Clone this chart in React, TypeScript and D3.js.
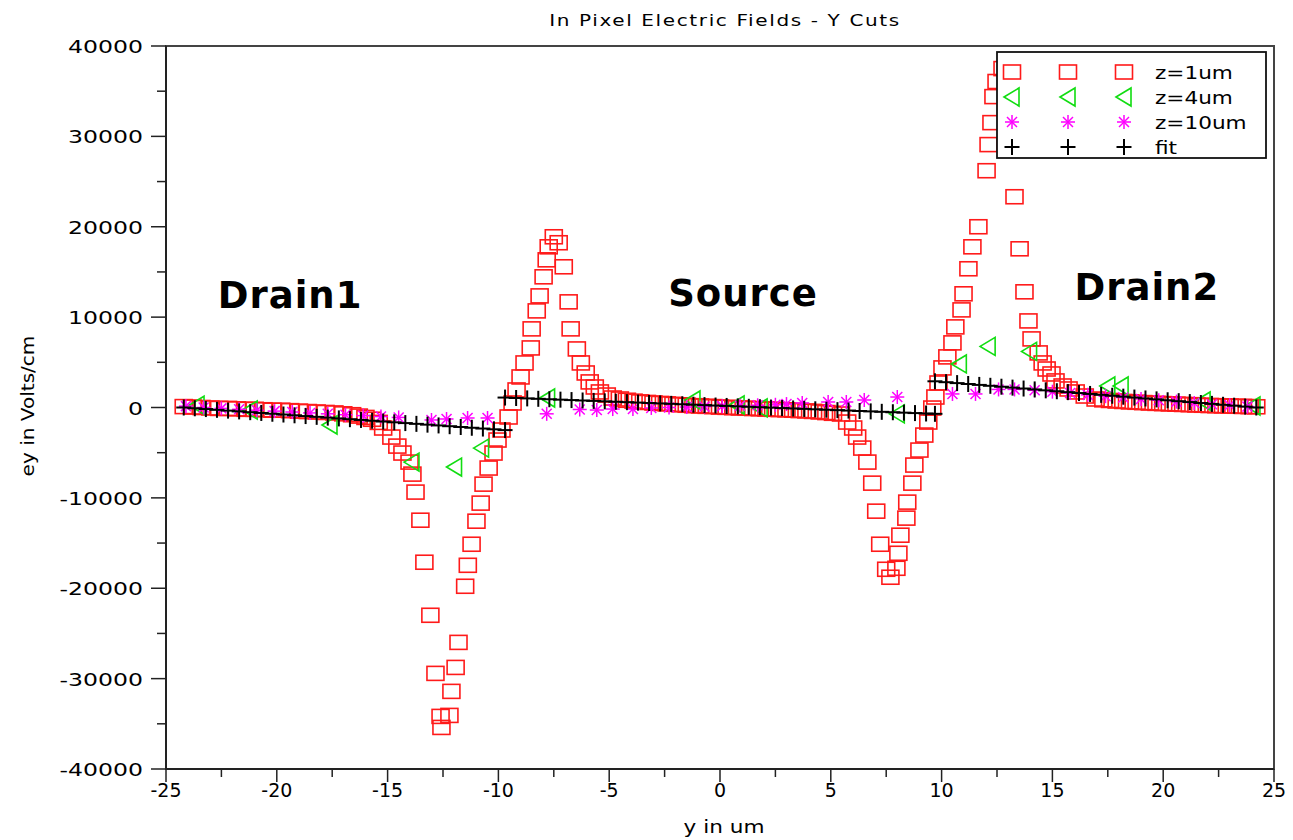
import React from "react";
import * as d3 from "d3";

type Pt = [number, number];

const TITLE = "In Pixel Electric Fields - Y Cuts";
const X_LABEL = "y in um";
const Y_LABEL = "ey in Volts/cm";
const X_TICKS = [-25, -20, -15, -10, -5, 0, 5, 10, 15, 20, 25];
const X_MINOR = [-22.5, -17.5, -12.5, -7.5, -2.5, 2.5, 7.5, 12.5, 17.5, 22.5];
const Y_TICKS = [-40000, -30000, -20000, -10000, 0, 10000, 20000, 30000, 40000];
const Y_MINOR = [-35000, -25000, -15000, -5000, 5000, 15000, 25000, 35000];
const LEGEND_LABELS = ["z=1um", "z=4um", "z=10um", "fit"];
const REGION_NAMES = ["Drain1", "Source", "Drain2"];
const REGION_X = [-19.4, 1.04, 19.26];
const REGION_Y = [11000, 11250, 11900];

// z = 1um (red squares)
const Z1UM: Pt[] = [
  [-24.2, 100], [-23.8, 50], [-23.4, 0], [-23.0, -50], [-22.6, -100], [-22.2, -100],
  [-21.8, -150], [-21.4, -200], [-21.0, -200], [-20.6, -250], [-20.2, -300], [-19.8, -300],
  [-19.4, -350], [-19.0, -400], [-18.6, -450], [-18.2, -500], [-17.8, -550], [-17.4, -600],
  [-17.0, -700], [-16.6, -800], [-16.3, -950], [-16.0, -1100], [-15.7, -1300], [-15.4, -1650],
  [-15.2, -2270], [-14.83, -3270], [-14.56, -4270], [-14.33, -5040], [-14.01, -6040],
  [-13.88, -7370], [-13.74, -9360], [-13.52, -12470], [-13.34, -17120], [-13.07, -22990],
  [-12.84, -29420], [-12.61, -34180], [-12.57, -35400], [-12.21, -34070], [-12.12, -31410],
  [-11.93, -28760], [-11.8, -25990], [-11.5, -19780], [-11.38, -17460], [-11.21, -15130],
  [-10.99, -12580], [-10.8, -10580], [-10.67, -8480], [-10.44, -6700], [-10.22, -5040],
  [-10.04, -3600], [-9.86, -2490], [-9.54, -1050], [-9.36, 500], [-9.18, 1940], [-9.0, 3380],
  [-8.82, 4930], [-8.54, 6590], [-8.5, 8700], [-8.27, 10690], [-8.14, 12350], [-7.96, 14460],
  [-7.82, 16340], [-7.73, 17780], [-7.5, 18890], [-7.28, 18230], [-7.05, 15570], [-6.83, 11690],
  [-6.74, 8700], [-6.46, 6480], [-6.28, 4930], [-6.06, 3820], [-5.88, 2830], [-5.65, 2270],
  [-5.42, 1720], [-5.11, 1380], [-4.84, 1050], [-4.52, 940],
  [-4.2, 800], [-3.9, 700], [-3.6, 620], [-3.3, 560], [-3.0, 500], [-2.7, 450], [-2.4, 400],
  [-2.1, 350], [-1.8, 300], [-1.5, 250], [-1.2, 200], [-0.9, 170], [-0.6, 130], [-0.3, 100],
  [0.0, 50], [0.3, 20], [0.6, -20], [0.9, -50], [1.2, -80], [1.5, -110], [1.8, -140],
  [2.1, -170], [2.4, -200], [2.7, -230], [3.0, -260], [3.3, -300], [3.6, -340], [3.9, -380],
  [4.2, -430], [4.5, -490], [4.8, -560], [5.1, -640],
  [5.46, -720], [5.74, -1610], [6.01, -2270], [6.19, -3270], [6.42, -4490], [6.65, -6040],
  [6.87, -8370], [7.05, -11470], [7.23, -15130], [7.5, -17900], [7.69, -18780], [7.96, -17790],
  [8.05, -16130], [8.14, -14130], [8.41, -12240], [8.45, -10470], [8.68, -8370], [8.77, -6370],
  [9.0, -4710], [9.22, -3050], [9.4, -1610], [9.58, -60], [9.72, 1160], [9.86, 2710],
  [10.04, 4380], [10.26, 5600], [10.49, 7150], [10.62, 8920], [10.9, 10800], [10.99, 12580],
  [11.21, 15350], [11.39, 17780], [11.66, 20000], [12.03, 26200], [12.12, 29090], [12.25, 31520],
  [12.34, 34400], [12.48, 36070], [12.75, 37500], [13.29, 23320], [13.52, 17560], [13.74, 12800],
  [13.92, 9580], [14.06, 7590], [14.38, 6040], [14.56, 4930], [14.74, 4260], [14.96, 3710],
  [15.14, 2940], [15.46, 2380], [15.73, 2050], [16.05, 1720], [16.46, 1270], [16.95, 940],
  [17.3, 850], [17.6, 780], [17.9, 720], [18.2, 670], [18.5, 620], [18.8, 580], [19.1, 540],
  [19.4, 500], [19.7, 460], [20.0, 430], [20.3, 400], [20.6, 370], [20.9, 340], [21.2, 310],
  [21.5, 280], [21.8, 250], [22.1, 220], [22.4, 200], [22.7, 180], [23.0, 160], [23.3, 140],
  [23.6, 120], [23.9, 100], [24.2, 80],
];

// z = 4um (green triangles)
const Z4UM: Pt[] = [
  [-23.6, 250], [-21.2, -280], [-17.6, -1940], [-13.9, -6040], [-11.98, -6590], [-10.76, -4490],
  [-7.78, 1050], [-1.22, 830], [0.77, 280], [1.81, -50], [8.0, -700], [10.8, 4820], [12.1, 6760],
  [13.97, 6210], [17.5, 2380], [18.1, 2380], [21.8, 720], [24.05, 170],
];

// z = 10um (magenta asterisks)
const Z10UM: Pt[] = [
  [-24.1, 150], [-23.3, 0], [-22.5, -100], [-21.7, -200], [-20.9, -300], [-20.1, -400],
  [-19.3, -500], [-18.5, -600], [-17.7, -700], [-16.9, -800], [-16.1, -900], [-15.3, -1000],
  [-14.5, -1100], [-13.02, -1380], [-12.34, -1270], [-11.39, -1160], [-10.49, -1160],
  [-7.82, -700], [-6.33, -220], [-5.56, -280], [-4.84, -170], [-3.93, -170], [-3.1, -50],
  [-2.3, 0], [-1.5, 50], [-0.7, 100], [0.1, 150], [0.9, 200], [1.7, 250], [2.5, 300],
  [3.0, 380], [3.71, 500], [4.88, 610], [5.7, 610], [6.51, 830], [8.0, 1160], [10.49, 1500],
  [11.53, 1500], [12.57, 2000], [13.29, 2000], [14.2, 1900], [15.0, 1750], [15.8, 1600],
  [16.6, 1400], [17.4, 1250], [18.2, 1100], [19.0, 950], [19.8, 800], [20.6, 650],
  [21.4, 500], [22.2, 350], [23.0, 250], [23.8, 100],
];

// fit (black plus)
const FIT_LEFT: Pt[] = [
  [-24.2, 0], [-23.7, -86], [-23.2, -172], [-22.7, -259], [-22.2, -345], [-21.7, -431],
  [-21.2, -517], [-20.7, -603], [-20.2, -690], [-19.7, -776], [-19.2, -862], [-18.7, -948],
  [-18.2, -1034], [-17.7, -1121], [-17.2, -1207], [-16.7, -1293], [-16.2, -1379], [-15.7, -1466],
  [-15.2, -1552], [-14.7, -1638], [-14.2, -1724], [-13.7, -1810], [-13.2, -1897], [-12.7, -1983],
  [-12.2, -2069], [-11.7, -2155], [-11.2, -2241], [-10.7, -2328], [-10.2, -2414], [-9.7, -2500],
];
const FIT_MIDDLE: Pt[] = [
  [-9.7, 1100], [-9.2, 1054], [-8.7, 1007], [-8.2, 961], [-7.7, 914], [-7.2, 868], [-6.7, 822],
  [-6.2, 775], [-5.7, 729], [-5.2, 682], [-4.7, 636], [-4.2, 590], [-3.7, 543], [-3.2, 497],
  [-2.7, 450], [-2.2, 404], [-1.7, 358], [-1.2, 311], [-0.7, 265], [-0.2, 218], [0.3, 172],
  [0.8, 126], [1.3, 79], [1.8, 33], [2.3, -14], [2.8, -60], [3.3, -106], [3.8, -153],
  [4.3, -199], [4.8, -246], [5.3, -292], [5.8, -338], [6.3, -385], [6.8, -431], [7.3, -478],
  [7.8, -524], [8.3, -570], [8.8, -617], [9.3, -663], [9.7, -700],
];
const FIT_RIGHT: Pt[] = [
  [9.7, 2900], [10.2, 2800], [10.7, 2700], [11.2, 2600], [11.7, 2500], [12.2, 2400],
  [12.7, 2300], [13.2, 2200], [13.7, 2100], [14.2, 2000], [14.7, 1900], [15.2, 1800],
  [15.7, 1700], [16.2, 1600], [16.7, 1500], [17.2, 1400], [17.7, 1300], [18.2, 1200],
  [18.7, 1100], [19.2, 1000], [19.7, 900], [20.2, 800], [20.7, 700], [21.2, 600],
  [21.7, 500], [22.2, 400], [22.7, 300], [23.2, 200], [23.7, 100], [24.2, 0],
];

const RED = "#ff1a1a";
const GREEN = "#11dd11";
const MAGENTA = "#ff00ff";
const FONT = "DejaVu Sans";

const Square = ({ cx, cy }: { cx: number; cy: number }) => (
  <rect x={cx - 8.5} y={cy - 7} width={17} height={14} fill="none" stroke={RED} strokeWidth={1.6} />
);
const Tri = ({ cx, cy }: { cx: number; cy: number }) => (
  <path d={`M${cx - 8},${cy} L${cx + 7},${cy - 9} L${cx + 7},${cy + 9} Z`} fill="none" stroke={GREEN} strokeWidth={1.6} />
);
const Star = ({ cx, cy }: { cx: number; cy: number }) => (
  <g stroke={MAGENTA} strokeWidth={1.5}>
    <line x1={cx} y1={cy - 7} x2={cx} y2={cy + 7} />
    <line x1={cx - 7} y1={cy} x2={cx + 7} y2={cy} />
    <line x1={cx - 5} y1={cy - 5} x2={cx + 5} y2={cy + 5} />
    <line x1={cx - 5} y1={cy + 5} x2={cx + 5} y2={cy - 5} />
  </g>
);
const Plus = ({ cx, cy }: { cx: number; cy: number }) => (
  <g stroke="#000" strokeWidth={2}>
    <line x1={cx} y1={cy - 8} x2={cx} y2={cy + 8} />
    <line x1={cx - 7.5} y1={cy} x2={cx + 7.5} y2={cy} />
  </g>
);

const SText = ({ x, y, sx = 1, anchor = "start", size, children, weight = "normal", rotate = 0, ls = 0 }: any) => (
  <text
    transform={`translate(${x},${y}) rotate(${rotate}) scale(${sx},1)`}
    textAnchor={anchor}
    fontSize={size}
    fontFamily={FONT}
    fontWeight={weight}
    letterSpacing={ls}
    fill="#000"
  >
    {children}
  </text>
);

export default function App() {
  const x = d3.scaleLinear().domain([-25, 25]).range([166, 1274]);
  const y = d3.scaleLinear().domain([-40000, 40000]).range([769, 46]);
  const [x0, x1] = x.range();
  const [y0, y1] = y.range();
  const fit = [...FIT_LEFT, ...FIT_MIDDLE, ...FIT_RIGHT];
  const markers = [Square, Tri, Star, Plus];
  const legendRows = [72, 97, 122, 147];
  const legendCols = [1012, 1068, 1124];

  return (
    <svg width={1293} height={840} style={{ position: "absolute", left: 0, top: 0, background: "#fff" }}>
      <rect x={0} y={0} width={1293} height={840} fill="#fff" />
      {/* frame */}
      <rect x={x0} y={y1} width={x1 - x0} height={y0 - y1} fill="none" stroke="#444" strokeWidth={2} />
      {/* y axis ticks */}
      {Y_TICKS.map((t) => (
        <g key={"yt" + t}>
          <line x1={x0 - 15} x2={x0} y1={y(t)} y2={y(t)} stroke="#222" strokeWidth={1.5} />
          <SText x={x0 - 23} y={y(t) + 7} sx={1.31} anchor="end" size={18}>
            {String(t)}
          </SText>
        </g>
      ))}
      {Y_MINOR.map((t) => (
        <line key={"ym" + t} x1={x0 - 9} x2={x0} y1={y(t)} y2={y(t)} stroke="#222" strokeWidth={1.5} />
      ))}
      {/* x axis ticks */}
      {X_TICKS.map((t) => (
        <g key={"xt" + t}>
          <line x1={x(t)} x2={x(t)} y1={y0} y2={y0 + 13} stroke="#222" strokeWidth={1.5} />
          <SText x={x(t)} y={y0 + 28} anchor="middle" size={19}>
            {String(t)}
          </SText>
        </g>
      ))}
      {X_MINOR.map((t) => (
        <line key={"xm" + t} x1={x(t)} x2={x(t)} y1={y0} y2={y0 + 8} stroke="#222" strokeWidth={1.5} />
      ))}
      {/* axis lines */}
      <line x1={x0} x2={x0} y1={y1} y2={y0} stroke="#222" strokeWidth={2} />
      <line x1={x0} x2={x1} y1={y0} y2={y0} stroke="#222" strokeWidth={2} />

      {/* titles */}
      <SText x={725} y={26} anchor="middle" size={16} sx={1.25} ls={1.3}>
        {TITLE}
      </SText>
      <SText x={724} y={833} anchor="middle" size={18} sx={1.2}>
        {X_LABEL}
      </SText>
      <SText x={34} y={406} anchor="middle" size={17} sx={1.18} rotate={-90}>
        {Y_LABEL}
      </SText>

      {/* region labels */}
      {REGION_NAMES.map((n, i) => (
        <SText key={n} x={x(REGION_X[i])} y={y(REGION_Y[i])} anchor="middle" size={37} weight="bold" ls={1}>
          {n}
        </SText>
      ))}

      {/* data */}
      {Z1UM.map((d, i) => (
        <Square key={"r" + i} cx={x(d[0])} cy={y(d[1])} />
      ))}
      {Z4UM.map((d, i) => (
        <Tri key={"g" + i} cx={x(d[0])} cy={y(d[1])} />
      ))}
      {Z10UM.map((d, i) => (
        <Star key={"m" + i} cx={x(d[0])} cy={y(d[1])} />
      ))}
      {fit.map((d, i) => (
        <Plus key={"f" + i} cx={x(d[0])} cy={y(d[1])} />
      ))}

      {/* legend */}
      <rect x={997} y={52} width={269} height={106} fill="#fff" stroke="#111" strokeWidth={1.8} />
      {LEGEND_LABELS.map((lab, r) => {
        const M = markers[r];
        return (
          <g key={lab}>
            {legendCols.map((cx) => (
              <M key={cx} cx={cx} cy={legendRows[r]} />
            ))}
            <SText x={1155} y={legendRows[r] + 7} size={18} sx={1.2}>
              {lab}
            </SText>
          </g>
        );
      })}
    </svg>
  );
}
